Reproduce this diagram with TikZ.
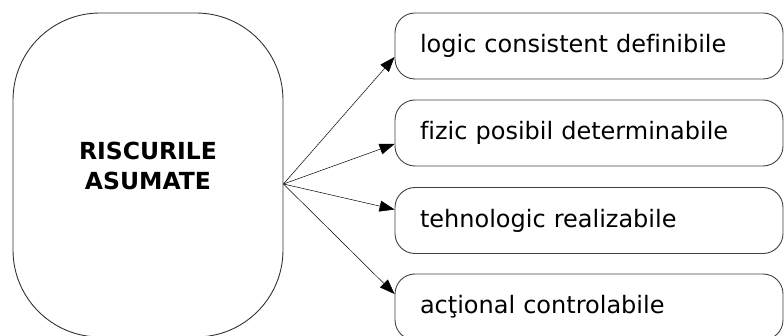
\documentclass[tikz,border=0pt]{standalone}
\usepackage{fontspec}
\setmainfont{DejaVu Sans}[RawFeature=-liga]
\usetikzlibrary{arrows.meta}
\begin{document}
\begin{tikzpicture}[x=1pt,y=-1pt,
  bigbox/.style={draw=black!80, line width=0.9pt, rounded corners=87pt,
    minimum width=270pt, minimum height=324pt, inner sep=0pt},
  bigtext/.style={align=center, inner sep=0pt,
    font=\fontsize{23.5}{30}\selectfont\bfseries},
  itembox/.style={draw=black!75, line width=0.9pt, rounded corners=20pt,
    minimum width=388pt, minimum height=66pt, text width=338pt, align=left,
    inner xsep=25pt, inner ysep=0pt, text height=18pt, text depth=4pt,
    font=\fontsize{24}{28}\selectfont},
  conn/.style={line width=0.5pt, -{Triangle[length=15pt,width=11pt]}}]
\useasboundingbox (0,0) rectangle (784,336);
\node[bigbox] (L) at (148,175) {};
\node[bigtext] (Lt) at (148,166) {RISCURILE\\ASUMATE};
\node[itembox] (b1) at (589,46) {logic consistent definibile};
\node[itembox] (b2) at (589,133) {fizic posibil determinabile};
\node[itembox] (b3) at (589,220.5) {tehnologic realizabile};
\node[itembox] (b4) at (589,307) {acţional controlabile};
\coordinate (src) at ([yshift=-9pt]L.east);
\draw[conn] (src) -- ([yshift=-11pt]b1.west);
\draw[conn] (src) -- ([yshift=-11pt]b2.west);
\draw[conn] (src) -- ([yshift=11pt]b3.west);
\draw[conn] (src) -- ([yshift=13pt]b4.west);
\end{tikzpicture}
\end{document}
